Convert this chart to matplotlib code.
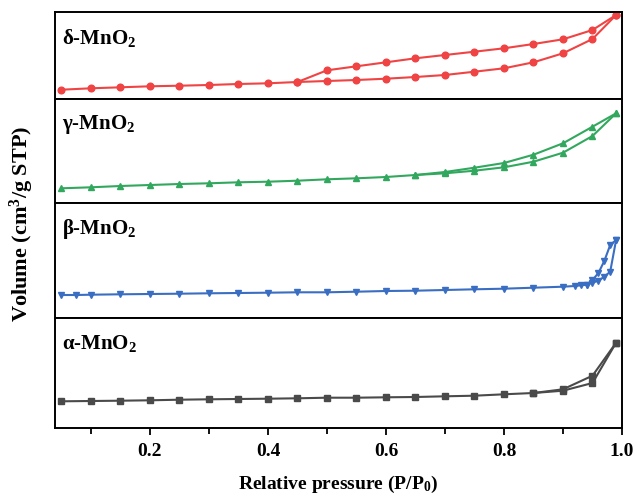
import matplotlib
matplotlib.use('Agg')
import matplotlib.pyplot as plt
from matplotlib.ticker import MultipleLocator

plt.rcParams['font.family'] = ['Liberation Serif', 'DejaVu Serif']
plt.rcParams['font.weight'] = 'bold'
plt.rcParams['mathtext.fontset'] = 'custom'
plt.rcParams['mathtext.rm'] = 'Liberation Serif:bold'
plt.rcParams['mathtext.bf'] = 'Liberation Serif:bold'
plt.rcParams['mathtext.it'] = 'Liberation Serif:bold'
plt.rcParams['mathtext.default'] = 'bf'

# delta-MnO2 (arbitrary volume units, offset per panel)
d_ads_x = [0.05, 0.1, 0.15, 0.2, 0.25, 0.3, 0.35, 0.4, 0.45, 0.5, 0.55, 0.6, 0.65, 0.7, 0.75, 0.8, 0.85, 0.9, 0.95, 0.99]
d_ads_y = [9.3, 10.7, 11.7, 12.7, 13.3, 14, 15, 15.7, 17, 18, 19, 20.3, 22, 24, 27.3, 30.7, 36.7, 45.7, 60, 84]
d_des_x = [0.99, 0.95, 0.9, 0.85, 0.8, 0.75, 0.7, 0.65, 0.6, 0.55, 0.5, 0.45]
d_des_y = [84, 69, 59.7, 55, 50.7, 47.3, 44, 40.7, 36.7, 32.7, 28.7, 17]

# gamma-MnO2
g_ads_x = [0.05, 0.1, 0.15, 0.2, 0.25, 0.3, 0.35, 0.4, 0.45, 0.5, 0.55, 0.6, 0.65, 0.7, 0.75, 0.8, 0.85, 0.9, 0.95, 0.99]
g_ads_y = [14.7, 15.7, 17, 18, 19, 19.7, 20.7, 21.3, 22.3, 23.7, 24.7, 26, 28, 29.7, 32.3, 35.7, 41.3, 50.3, 67, 89.7]
g_des_x = [0.99, 0.95, 0.9, 0.85, 0.8, 0.75, 0.7, 0.65]
g_des_y = [89.7, 76.3, 59.7, 48.3, 40, 35.3, 31, 28]

# beta-MnO2
b_ads_x = [0.05, 0.075, 0.1, 0.15, 0.2, 0.25, 0.3, 0.35, 0.4, 0.45, 0.5, 0.55, 0.6, 0.65, 0.7, 0.75, 0.8, 0.85, 0.9,
           0.92, 0.93, 0.94, 0.95, 0.96, 0.97, 0.98, 0.99]
b_ads_y = [23, 23, 23.3, 23.7, 24, 24.3, 24.7, 25, 25.3, 25.7, 25.7, 26.3, 27, 27.3, 28, 28.7, 29.3, 30.3, 31.3,
           32, 32.7, 33.3, 35.3, 37.3, 41.3, 46.3, 78]
b_des_x = [0.99, 0.98, 0.97, 0.96, 0.95, 0.94]
b_des_y = [78, 73, 57, 45, 38, 33.3]

# alpha-MnO2
a_ads_x = [0.05, 0.1, 0.15, 0.2, 0.25, 0.3, 0.35, 0.4, 0.45, 0.5, 0.55, 0.6, 0.65, 0.7, 0.75, 0.8, 0.85, 0.9, 0.95, 0.99]
a_ads_y = [26.7, 27, 27.3, 27.7, 28.3, 28.7, 29, 29.3, 29.7, 30.3, 30.3, 30.7, 31, 31.7, 32.3, 33.7, 35, 37.3, 45, 85.3]
a_des_x = [0.99, 0.95, 0.9, 0.85]
a_des_y = [85.3, 52.3, 38.7, 35]

panels = [
    ('δ-MnO$_2$', '#F04343', 'o', d_ads_x, d_ads_y, d_des_x, d_des_y, 87),
    ('γ-MnO$_2$', '#31A85E', '^', g_ads_x, g_ads_y, g_des_x, g_des_y, 104),
    ('β-MnO$_2$', '#3A6EC2', 'v', b_ads_x, b_ads_y, b_des_x, b_des_y, 115),
    ('α-MnO$_2$', '#4A4A4A', 's', a_ads_x, a_ads_y, a_des_x, a_des_y, 110),
]

fig = plt.figure(figsize=(6.35, 4.96), dpi=100)
gs = fig.add_gridspec(4, 1, height_ratios=[p[7] for p in panels], hspace=0,
                      left=55/635, right=622/635, top=1-12/496, bottom=1-428/496)

axes = []
for i, (name, col, mk, ax_x, ax_y, dx, dy, h) in enumerate(panels):
    ax = fig.add_subplot(gs[i])
    ax.plot(ax_x, ax_y, color=col, marker=mk, markersize=4.8, lw=1.5)
    ax.plot(dx, dy, color=col, marker=mk, markersize=4.8, lw=1.5)
    ax.set_xlim(0.039, 1.0)
    ax.set_ylim(0, h)
    ax.set_yticks([])
    for s in ax.spines.values():
        s.set_linewidth(1.4)
    ax.text(0.013, 1 - 26/h, name, transform=ax.transAxes, fontsize=15,
            fontweight='bold', ha='left', va='center')
    ax.xaxis.set_major_locator(MultipleLocator(0.2))
    ax.xaxis.set_minor_locator(MultipleLocator(0.1))
    if i < 3:
        ax.tick_params(axis='x', which='both', bottom=False, labelbottom=False)
    else:
        ax.tick_params(axis='x', which='major', direction='out', length=5, width=1.3, labelsize=14, pad=6)
        ax.tick_params(axis='x', which='minor', direction='out', length=4, width=1.3)
        ax.set_xlabel('Relative pressure (P/P$_0$)', fontsize=14, fontweight='bold', labelpad=10)
    axes.append(ax)

fig.text(22/635, 1 - 224/496, 'Volume (cm$^3$/g STP)', rotation=90, fontsize=16,
         fontweight='bold', ha='center', va='center')

fig.savefig('out.png', dpi=100)
